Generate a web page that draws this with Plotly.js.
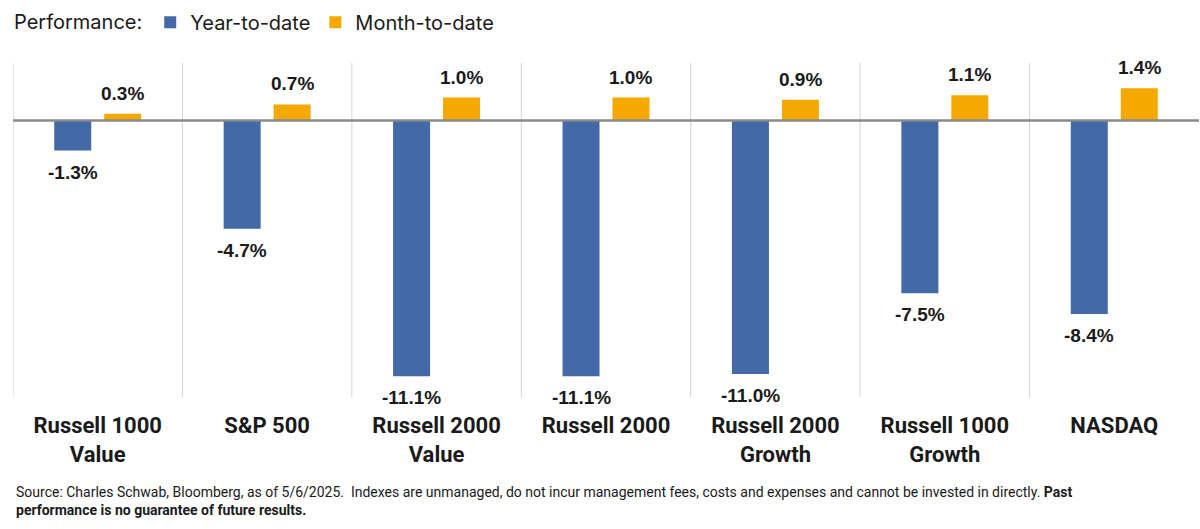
<!DOCTYPE html>
<html>
<head>
<meta charset="utf-8">
<script src="https://cdn.plot.ly/plotly-3.0.1.min.js"></script>
<style>html,body{margin:0;padding:0;background:#fff;}#chart{width:1200px;height:529px;}</style>
</head>
<body>
<div id="chart"></div>
<script>
const categories = ["Russell 1000<br>Value", "S&P 500", "Russell 2000<br>Value", "Russell 2000", "Russell 2000<br>Growth", "Russell 1000<br>Growth", "NASDAQ"];
const yearToDate = [-1.3, -4.7, -11.1, -11.1, -11.0, -7.5, -8.4];
const monthToDate = [0.3, 0.7, 1.0, 1.0, 0.9, 1.1, 1.4];
const seriesNames = ["Year-to-date", "Month-to-date"];
const colors = ["#4469A8", "#F5A800"];

const fmt = v => v.toFixed(1) + "%";
const bargap = 0.41, bargroupgap = 0.26;
const slot = (1 - bargap) / 2;

const traces = [yearToDate, monthToDate].map((vals, k) => ({
  type: "bar",
  name: seriesNames[k],
  x: categories,
  y: vals,
  marker: {color: colors[k]},
  hoverinfo: "x+y"
}));

const annotations = [];
[yearToDate, monthToDate].forEach((vals, k) => {
  const off = (k === 0 ? -1 : 1) * slot / 2;
  vals.forEach((v, i) => {
    annotations.push({
      xref: "x", yref: "y",
      x: i + off, y: v,
      text: fmt(v),
      showarrow: false,
      yanchor: v >= 0 ? "bottom" : "top",
      yshift: v >= 0 ? 8 : -9,
      font: {family: "Liberation Sans, Arial, sans-serif", size: 19, color: "#1a1a1a", weight: 700}
    });
  });
});

annotations.push({
  xref: "paper", yref: "paper",
  x: 0.001, y: -0.255, xanchor: "left", yanchor: "top",
  align: "left", showarrow: false,
  text: "Source: Charles Schwab, Bloomberg, as of 5/6/2025.  Indexes are unmanaged, do not incur management fees, costs and expenses and cannot be invested in directly. <b>Past</b><br><b>performance is no guarantee of future results.</b>",
  font: {family: "Roboto, sans-serif", size: 14, color: "#1a1a1a"}
});

const shapes = [];
for (let i = 0; i < categories.length; i++) {
  shapes.push({
    type: "line", xref: "x", yref: "paper",
    x0: i - 0.5, x1: i - 0.5, y0: 0, y1: 1,
    line: {color: "#d4d4d4", width: 1}, layer: "below"
  });
}
shapes.push({
  type: "line", xref: "paper", yref: "y",
  x0: 0, x1: 1, y0: 0, y1: 0,
  line: {color: "#8a8a8a", width: 2.5}, layer: "above"
});

const layout = {
  width: 1200, height: 529,
  margin: {l: 13, r: 1, t: 63, b: 132},
  paper_bgcolor: "#fff", plot_bgcolor: "#fff",
  barmode: "group", bargap: bargap, bargroupgap: bargroupgap,
  showlegend: true,
  legend: {
    orientation: "h",
    xref: "container", yref: "container",
    x: 0.01, y: 0.995, xanchor: "left", yanchor: "top",
    title: {text: "Performance:", font: {family: "Inter, sans-serif", size: 20, color: "#1a1a1a"}},
    font: {family: "Inter, sans-serif", size: 20, color: "#1a1a1a"},
    itemwidth: 30
  },
  xaxis: {
    type: "category",
    range: [-0.5, 6.5],
    showgrid: false, zeroline: false, showline: false,
    ticks: "", ticklabelstandoff: 13,
    tickfont: {family: "Roboto, sans-serif", size: 22, color: "#1a1a1a", weight: 700},
    fixedrange: true
  },
  yaxis: {
    range: [-12, 2.5],
    showgrid: false, zeroline: false, showline: false,
    showticklabels: false, ticks: "",
    fixedrange: true
  },
  annotations: annotations,
  shapes: shapes
};

Plotly.newPlot("chart", traces, layout, {displayModeBar: false, staticPlot: true});
</script>
</body>
</html>
